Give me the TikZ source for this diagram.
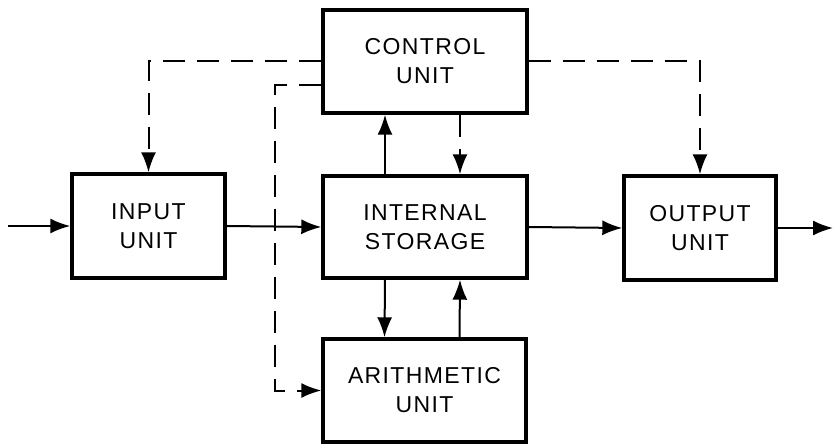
\documentclass[tikz,border=0pt]{standalone}
\usepackage{fontspec}
\setmainfont{Liberation Sans}[LetterSpace=6]
\usetikzlibrary{arrows.meta}
\tikzset{
  unitbox/.style={draw, line width=3.4pt, align=center, inner sep=0pt,
    font=\fontsize{23}{29}\selectfont},
  flow/.style={line width=2pt, -{Latex[length=20pt,width=15pt]}},
  ctl/.style={flow, dash pattern=on 22pt off 12pt},
}
\begin{document}
\begin{tikzpicture}[x=1pt,y=-1pt]
\useasboundingbox (0,0) rectangle (833,444);
\node[unitbox, minimum width=204pt, minimum height=103pt] (ctrl) at (425,61.5) {CONTROL\\UNIT};
\node[unitbox, minimum width=153pt, minimum height=104pt] (input) at (148.5,226) {INPUT\\UNIT};
\node[unitbox, minimum width=204pt, minimum height=102pt] (store) at (425,227) {INTERNAL\\STORAGE};
\node[unitbox, minimum width=152pt, minimum height=104pt] (output) at (700,228) {OUTPUT\\UNIT};
\node[unitbox, minimum width=203pt, minimum height=103pt] (arith) at (424.5,390.5) {ARITHMETIC\\UNIT};
\coordinate (src) at (8,226);
\coordinate (sink) at (833,228);
\coordinate (bend) at (275,85);
% solid data paths
\draw[flow] (src) -- (input.west);
\draw[flow] (input.east) -- (store.west);
\draw[flow] (store.east) -- (output.west);
\draw[flow] (output.east) -- (sink);
\draw[flow] ([xshift=-40pt]store.north) -- ([xshift=-40pt]ctrl.south);
\draw[flow] ([xshift=-40pt]store.south) -- ([xshift=-40pt]arith.north);
\draw[flow] ([xshift=35pt]arith.north) -- ([xshift=35pt]store.south);
% dashed control paths
\draw[ctl] ([xshift=35pt]ctrl.south) -- ([xshift=35pt]store.north);
\draw[ctl] (ctrl.west) -| (input.north);
\draw[ctl] (ctrl.east) -| (output.north);
\draw[ctl] ([yshift=-23.5pt]ctrl.west) -- (bend) |- (arith.west);
\end{tikzpicture}
\end{document}
